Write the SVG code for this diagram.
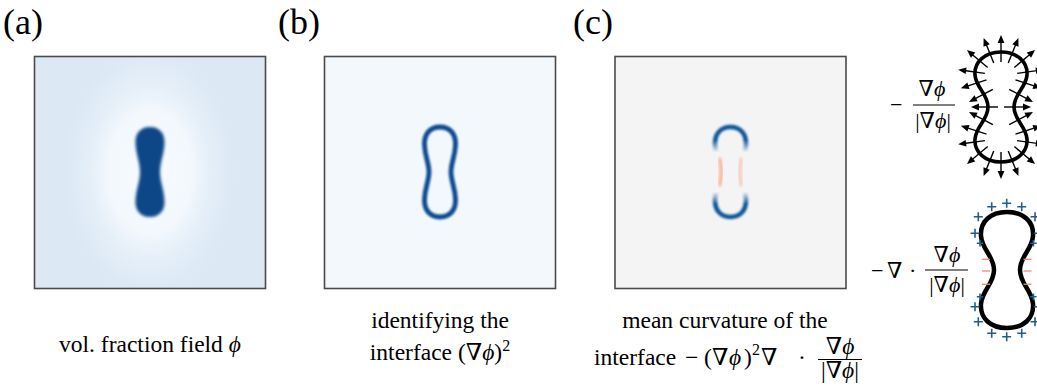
<svg xmlns="http://www.w3.org/2000/svg" xmlns:xlink="http://www.w3.org/1999/xlink" width="1037" height="392" viewBox="0 0 1037 392">
<style>
.t{font-family:"Liberation Serif","DejaVu Serif",serif;fill:#000}
.lab{font-size:36px}
.cap{font-size:23.5px}
.m{font-size:22px}
.i{font-style:italic}
.frame{fill:none;stroke:#4a4a4a;stroke-width:1.6}
.bar{stroke:#000;stroke-width:1.1}
.pl{stroke:#1f5f8f;stroke-width:1.6;fill:none}
.mi{stroke:#ef8877;stroke-width:1.3;fill:none}
</style>
<defs>
<filter id="b2" x="-30%" y="-30%" width="160%" height="160%"><feGaussianBlur stdDeviation="1.8"/></filter>
<filter id="b1" x="-30%" y="-30%" width="160%" height="160%"><feGaussianBlur stdDeviation="0.9"/></filter>
<filter id="b3" x="-100%" y="-30%" width="300%" height="160%"><feGaussianBlur stdDeviation="1.4"/></filter>
<clipPath id="clipA"><rect x="34.5" y="56.5" width="231" height="232"/></clipPath>
<radialGradient id="halo">
<stop offset="0" stop-color="#f7fbff" stop-opacity="1"/>
<stop offset="0.45" stop-color="#f3f8fd" stop-opacity="1"/>
<stop offset="1" stop-color="#dce9f5" stop-opacity="0"/>
</radialGradient>
<linearGradient id="cmg" gradientUnits="userSpaceOnUse" x1="0" y1="125" x2="0" y2="219">
<stop offset="0" stop-color="#fff"/>
<stop offset="0.16" stop-color="#fff"/>
<stop offset="0.29" stop-color="#000"/>
<stop offset="0.71" stop-color="#000"/>
<stop offset="0.84" stop-color="#fff"/>
<stop offset="1" stop-color="#fff"/>
</linearGradient>
<mask id="cm" maskUnits="userSpaceOnUse" x="615" y="56" width="232" height="233">
<rect x="615" y="56" width="232" height="233" fill="url(#cmg)"/>
</mask>
<path id="ring" d="M440 127 C450 127 456 134 455.5 145 C455 157 451 163 451 172 C451 181 455 187 455.5 199 C456 210 450 217 440 217 C430 217 424 210 424.5 199 C425 187 429 181 429 172 C429 163 425 157 424.5 145 C424 134 430 127 440 127 Z"/>
<g id="arr"><line x1="-10" y1="0" x2="11" y2="0" stroke="#000" stroke-width="1.4"/><path d="M17,0 L9,-3.4 L9,3.4 Z" fill="#000"/></g>
<path id="plus" d="M-4.5,0H4.5M0,-4.5V4.5"/>
<path id="plusS" d="M-3.2,0H3.2M0,-3.2V3.2"/>
<path id="minus" d="M-4,0H4"/>
</defs>

<rect width="1037" height="392" fill="#fff"/>

<g id="panel-a">
<text class="t lab" x="3" y="34">(a)</text>
<g clip-path="url(#clipA)">
<rect x="34.5" y="56.5" width="231" height="232" fill="#dce9f5"/>
<ellipse cx="150" cy="172" rx="92" ry="135" fill="url(#halo)"/>
<path d="M150 127 C159 127 165 133 164.5 143 C164 155 160 162 160 172 C160 182 164 189 164.5 201 C165 211 159 217 150 217 C141 217 135 211 135.5 201 C136 189 140 182 140 172 C140 162 136 155 135.5 143 C135 133 141 127 150 127 Z" fill="#0a4788" filter="url(#b2)"/>
</g>
<rect class="frame" x="34.5" y="56.5" width="231" height="232"/>
<text class="t cap" x="150" y="352" text-anchor="middle">vol. fraction field <tspan class="i">ϕ</tspan></text>
</g>

<g id="panel-b">
<text class="t lab" x="278" y="34">(b)</text>
<rect x="324.5" y="56.5" width="231" height="232" fill="#f3f8fd"/>
<use xlink:href="#ring" fill="none" stroke="#074a90" stroke-width="4.8" filter="url(#b1)"/>
<rect class="frame" x="324.5" y="56.5" width="231" height="232"/>
<text class="t cap" x="440" y="328" text-anchor="middle">identifying the</text>
<text class="t cap" x="440" y="360" text-anchor="middle">interface (∇<tspan class="i">ϕ</tspan>)<tspan font-size="16" dy="-9">2</tspan></text>
</g>

<g id="panel-c">
<text class="t lab" x="573" y="34">(c)</text>
<rect x="615" y="56.5" width="231" height="232" fill="#f4f4f4"/>
<g mask="url(#cm)">
<use xlink:href="#ring" transform="translate(290.5,0)" fill="none" stroke="#0b5699" stroke-width="4.6" filter="url(#b1)"/>
</g>
<path d="M719.5,158 C721.5,167 721.5,177 719.5,186" fill="none" stroke="#f7a98a" stroke-width="3.2" filter="url(#b3)" opacity="0.95"/>
<path d="M741.5,158 C739.5,167 739.5,177 741.5,186" fill="none" stroke="#f7a98a" stroke-width="3.2" filter="url(#b3)" opacity="0.6"/>
<rect class="frame" x="615" y="56.5" width="231" height="232"/>
<text class="t cap" x="725" y="328" text-anchor="middle">mean curvature of the</text>
<text class="t cap" x="594" y="365">interface</text>
<text class="t cap" x="685" y="365">−</text>
<text class="t cap" x="704" y="365">(</text>
<text class="t cap" x="712" y="365">∇</text>
<text class="t cap i" x="729" y="365">ϕ</text>
<text class="t cap" x="744" y="365">)</text>
<text class="t" font-size="16" x="752" y="355">2</text>
<text class="t cap" x="761" y="365">∇</text>
<text class="t cap" x="798" y="365">·</text>
<text class="t cap" x="840" y="354" text-anchor="middle">∇<tspan class="i">ϕ</tspan></text>
<line class="bar" x1="818" y1="359.5" x2="862" y2="359.5"/>
<text class="t cap" x="840" y="378" text-anchor="middle">|∇<tspan class="i">ϕ</tspan>|</text>
</g>

<g id="normal-glyph">
<text class="t m" x="890" y="112">−</text>
<text class="t m" x="932" y="96" text-anchor="middle">∇<tspan class="i">ϕ</tspan></text>
<line class="bar" x1="913" y1="105" x2="955" y2="105"/>
<text class="t m" x="933" y="128" text-anchor="middle">|∇<tspan class="i">ϕ</tspan>|</text>
<path d="M 1001 52 C 1017 52, 1028 62, 1027 75 C 1026 88, 1014 94, 1014 107 C 1014 120, 1026 126, 1027 139 C 1028 152, 1017 162, 1001 162 C 985 162, 974 152, 975 139 C 976 126, 988 120, 988 107 C 988 94, 976 88, 975 75 C 974 62, 985 52, 1001 52 Z" fill="none" stroke="#000" stroke-width="3.6"/>
<g id="normals">
<use xlink:href="#arr" transform="translate(1001,52) rotate(-90)"/>
<use xlink:href="#arr" transform="translate(1001,162) rotate(90)"/>
<use xlink:href="#arr" transform="translate(1012,53.8) rotate(-68)"/>
<use xlink:href="#arr" transform="translate(1022,61) rotate(-40)"/>
<use xlink:href="#arr" transform="translate(1027,72) rotate(-8)"/>
<use xlink:href="#arr" transform="translate(1025,83) rotate(18)"/>
<use xlink:href="#arr" transform="translate(1018,94) rotate(28)"/>
<use xlink:href="#arr" transform="translate(1014,107) rotate(0)"/>
<use xlink:href="#arr" transform="translate(1018,120) rotate(-28)"/>
<use xlink:href="#arr" transform="translate(1025,131) rotate(-18)"/>
<use xlink:href="#arr" transform="translate(1027,142) rotate(8)"/>
<use xlink:href="#arr" transform="translate(1022,153) rotate(40)"/>
<use xlink:href="#arr" transform="translate(1012,160.2) rotate(68)"/>
<use xlink:href="#arr" transform="translate(990,53.8) rotate(-112)"/>
<use xlink:href="#arr" transform="translate(980,61) rotate(-140)"/>
<use xlink:href="#arr" transform="translate(975,72) rotate(-172)"/>
<use xlink:href="#arr" transform="translate(977,83) rotate(162)"/>
<use xlink:href="#arr" transform="translate(984,94) rotate(152)"/>
<use xlink:href="#arr" transform="translate(988,107) rotate(180)"/>
<use xlink:href="#arr" transform="translate(984,120) rotate(-152)"/>
<use xlink:href="#arr" transform="translate(977,131) rotate(-162)"/>
<use xlink:href="#arr" transform="translate(975,142) rotate(172)"/>
<use xlink:href="#arr" transform="translate(980,153) rotate(140)"/>
<use xlink:href="#arr" transform="translate(990,160.2) rotate(112)"/>
</g>
</g>

<g id="curvature-glyph">
<text class="t m" x="871" y="278">−</text>
<text class="t m" x="887" y="278">∇</text>
<text class="t m" x="909" y="278">·</text>
<text class="t m" x="947" y="262" text-anchor="middle">∇<tspan class="i">ϕ</tspan></text>
<line class="bar" x1="925" y1="270" x2="968" y2="270"/>
<text class="t m" x="947" y="292" text-anchor="middle">|∇<tspan class="i">ϕ</tspan>|</text>
<path d="M 1007 212 C 1024 212, 1034 222, 1033 236 C 1032 250, 1020 256, 1020 270 C 1020 284, 1032 290, 1033 304 C 1034 318, 1024 328, 1007 328 C 990 328, 980 318, 981 304 C 982 290, 994 284, 994 270 C 994 256, 982 250, 981 236 C 980 222, 990 212, 1007 212 Z" fill="none" stroke="#000" stroke-width="4.5"/>
<g id="signs">
<use xlink:href="#plus" class="pl" x="991.7" y="206.7"/>
<use xlink:href="#plus" class="pl" x="1006.7" y="203.3"/>
<use xlink:href="#plus" class="pl" x="1021.7" y="206.7"/>
<use xlink:href="#plus" class="pl" x="978.3" y="216.7"/>
<use xlink:href="#plus" class="pl" x="975" y="233.3"/>
<use xlink:href="#plusS" class="pl" x="980" y="243.3"/>
<use xlink:href="#plus" class="pl" x="1035" y="216.7"/>
<use xlink:href="#plus" class="pl" x="1038.4" y="233.3"/>
<use xlink:href="#plusS" class="pl" x="1033.4" y="243.3"/>
<use xlink:href="#plusS" class="pl" x="980" y="296.7"/>
<use xlink:href="#plus" class="pl" x="975" y="306.7"/>
<use xlink:href="#plus" class="pl" x="978.3" y="321.7"/>
<use xlink:href="#plus" class="pl" x="991.7" y="333.3"/>
<use xlink:href="#plus" class="pl" x="1006.7" y="336.7"/>
<use xlink:href="#plus" class="pl" x="1021.7" y="333.3"/>
<use xlink:href="#plusS" class="pl" x="1033.4" y="296.7"/>
<use xlink:href="#plus" class="pl" x="1038.4" y="306.7"/>
<use xlink:href="#plus" class="pl" x="1035" y="321.7"/>
<use xlink:href="#minus" class="mi" x="986" y="259.3"/>
<use xlink:href="#minus" class="mi" x="986" y="271"/>
<use xlink:href="#minus" class="mi" x="986" y="284.3"/>
<use xlink:href="#minus" class="mi" x="1027.5" y="259.3"/>
<use xlink:href="#minus" class="mi" x="1027.5" y="271"/>
<use xlink:href="#minus" class="mi" x="1027.5" y="284.3"/>
</g>
</g>
</svg>
